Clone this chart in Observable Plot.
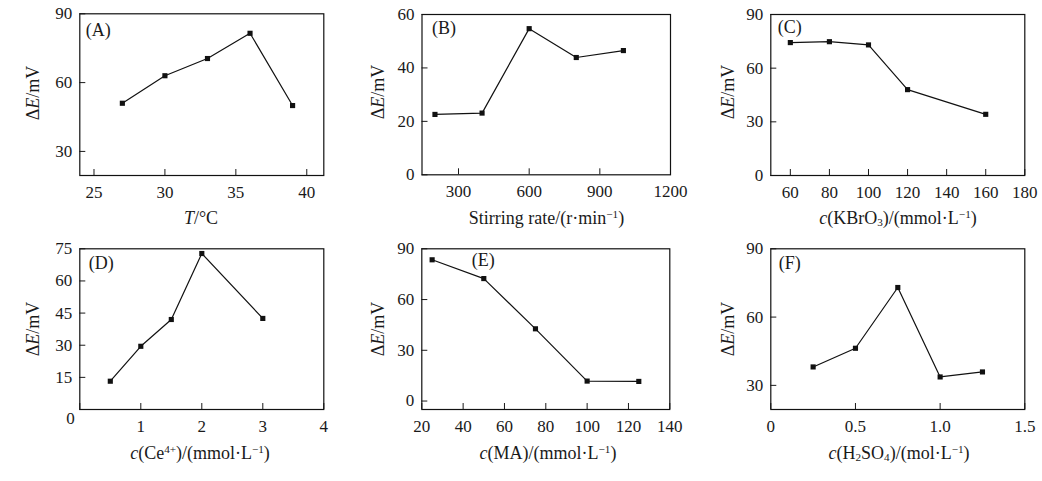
<!DOCTYPE html>
<html><head><meta charset="utf-8">
<script src="https://cdn.jsdelivr.net/npm/d3@7"></script>
<script src="https://cdn.jsdelivr.net/npm/@observablehq/plot@0.6"></script>
<style>
body{margin:0;background:#fff;}
#root{position:relative;width:1042px;height:481px;font-family:"Liberation Serif","Times New Roman",serif;color:#1a1a1a;overflow:hidden;}
.panel{position:absolute;}
.lab{position:absolute;white-space:nowrap;font-size:18px;line-height:1;transform:translate(-50%,-50%);}
.ylab{position:absolute;white-space:nowrap;font-size:18px;line-height:1;transform:translate(-50%,-50%) rotate(-90deg);}
sup,sub{font-size:0.62em;line-height:0;}
sup{vertical-align:0.55em;}
sub{vertical-align:-0.2em;}
</style></head><body><div id="root"></div>
<script>
// ---- data ----
const panelNames = ["(A)", "(B)", "(C)", "(D)", "(E)", "(F)"];
const xA = [27, 30, 33, 36, 39];
const yA = [51, 63, 70.5, 81.5, 50];
const xB = [200, 400, 600, 800, 1000];
const yB = [22.6, 23.1, 54.7, 43.9, 46.5];
const xC = [60, 80, 100, 120, 160];
const yC = [74.3, 74.8, 73, 48, 34.2];
const xD = [0.5, 1, 1.5, 2, 3];
const yD = [13.2, 29.5, 42, 72.8, 42.5];
const xE = [25, 50, 75, 100, 125];
const yE = [83.5, 72.4, 42.7, 11.8, 11.6];
const xF = [0.25, 0.5, 0.75, 1.0, 1.25];
const yF = [38.1, 46.3, 73, 33.7, 35.9];

// tick values
const xTicksA = [25, 30, 35, 40];
const yTicksA = [30, 60, 90];
const xTicksB = [300, 600, 900, 1200];
const yTicksB = [0, 20, 40, 60];
const xTicksC = [60, 80, 100, 120, 140, 160, 180];
const yTicksC = [0, 30, 60, 90];
const xTicksD = [0, 1, 2, 3, 4];
const yTicksD = [0, 15, 30, 45, 60, 75];
const xTicksE = [20, 40, 60, 80, 100, 120, 140];
const yTicksE = [0, 30, 60, 90];
const xTicksF = [0, 0.5, 1.0, 1.5];
const yTicksF = [30, 60, 90];

// axis titles (HTML for italics / sub / superscripts)
const yTitle = "Δ<i>E</i>/mV";
const xTitles = [
  "<i>T</i>/°C",
  "Stirring rate/(r·min<sup>−1</sup>)",
  "<i>c</i>(KBrO<sub>3</sub>)/(mmol·L<sup>−1</sup>)",
  "<i>c</i>(Ce<sup>4+</sup>)/(mmol·L<sup>−1</sup>)",
  "<i>c</i>(MA)/(mmol·L<sup>−1</sup>)",
  "<i>c</i>(H<sub>2</sub>SO<sub>4</sub>)/(mol·L<sup>−1</sup>)"
];

// ---- layout ----
const panels = [
  {x: xA, y: yA, xt: xTicksA, yt: yTicksA, xd: [24, 41.2], yd: [19.5, 90],
   left: 0, top: 0, w: 347, h: 235, ml: 79.3, mr: 23.7, mt: 13.3, mb: 60, ldx: 6, ldy: 9,
   xl: [201, 218], yl: [32.5, 93]},
  {x: xB, y: yB, xt: xTicksB, yt: yTicksB, xd: [145, 1200], yd: [0, 60],
   left: 342, top: 0, w: 347, h: 235, ml: 79.5, mr: 19, mt: 14, mb: 60.7, ldx: 10, ldy: 7,
   xl: [546.5, 218], yl: [377.7, 92]},
  {x: xC, y: yC, xt: xTicksC, yt: yTicksC, xd: [50, 180], yd: [0, 90],
   left: 691, top: 0, w: 351, h: 235, ml: 79.3, mr: 17.7, mt: 14, mb: 60, ldx: 7, ldy: 6,
   xl: [898, 218], yl: [727.7, 92]},
  {x: xD, y: yD, xt: xTicksD, yt: yTicksD, xd: [0, 4], yd: [0, 75],
   left: 0, top: 235, w: 347, h: 246, ml: 79.3, mr: 23.7, mt: 13.3, mb: 72, ldx: 9, ldy: 7,
   xl: [200, 453], yl: [33, 329], corner: true},
  {x: xE, y: yE, xt: xTicksE, yt: yTicksE, xd: [20, 140], yd: [-5, 90],
   left: 342, top: 235, w: 347, h: 246, ml: 79.3, mr: 19.7, mt: 13.3, mb: 72, ldx: 50, ldy: 4,
   xl: [548, 453], yl: [377.7, 329]},
  {x: xF, y: yF, xt: xTicksF, yt: yTicksF, xd: [0, 1.5], yd: [19.4, 90],
   left: 691, top: 235, w: 351, h: 246, ml: 79.3, mr: 17.7, mt: 13.3, mb: 72, ldx: 8, ldy: 7,
   xl: [899, 453], yl: [727.7, 329], fmtF: true}
];

const root = document.getElementById("root");
panels.forEach((p, i) => {
  const data = p.x.map((xv, j) => ({x: xv, y: p.y[j]}));
  let xfmt = d => String(d);
  if (p.fmtF) xfmt = d => d === 0 ? "0" : d.toFixed(1);
  if (p.corner) xfmt = d => d === 0 ? "" : String(d);
  const yfmt = p.corner ? (d => d === 0 ? "" : String(d)) : (d => String(d));
  const marks = [
    Plot.axisX({ticks: p.xt, tickSize: -6, tickPadding: 16, tickFormat: xfmt, fontSize: 17}),
    Plot.axisY({ticks: p.yt, tickSize: -6, tickPadding: 13.5, tickFormat: yfmt, fontSize: 17}),
    Plot.frame({stroke: "#111", strokeWidth: 1.2}),
    Plot.line(data, {x: "x", y: "y", stroke: "#111", strokeWidth: 1.2}),
    Plot.dot(data, {x: "x", y: "y", symbol: "square", r: 2.9, fill: "#111", stroke: "none"}),
    Plot.text([panelNames[i]], {frameAnchor: "top-left", dx: p.ldx, dy: p.ldy, textAnchor: "start", lineAnchor: "top", fontSize: 18, fill: "#1a1a1a"})
  ];
  if (p.corner) {
    marks.push(Plot.text(["0"], {frameAnchor: "bottom-left", dx: -9.3, dy: 8.7, textAnchor: "middle", lineAnchor: "middle", fontSize: 17, fill: "#1a1a1a"}));
  }
  const chart = Plot.plot({
    width: p.w, height: p.h,
    marginLeft: p.ml, marginRight: p.mr, marginTop: p.mt, marginBottom: p.mb,
    x: {domain: p.xd, label: null},
    y: {domain: p.yd, label: null},
    style: {fontFamily: "'Liberation Serif', 'Times New Roman', serif", fontSize: "17px", color: "#1a1a1a", background: "transparent", overflow: "visible"},
    marks
  });
  chart.classList.add("panel");
  chart.style.left = p.left + "px";
  chart.style.top = p.top + "px";
  root.appendChild(chart);

  const xl = document.createElement("div");
  xl.className = "lab";
  xl.innerHTML = xTitles[i];
  xl.style.left = p.xl[0] + "px";
  xl.style.top = p.xl[1] + "px";
  root.appendChild(xl);

  const yl = document.createElement("div");
  yl.className = "ylab";
  yl.innerHTML = yTitle;
  yl.style.left = p.yl[0] + "px";
  yl.style.top = p.yl[1] + "px";
  root.appendChild(yl);
});
</script>
</body></html>
